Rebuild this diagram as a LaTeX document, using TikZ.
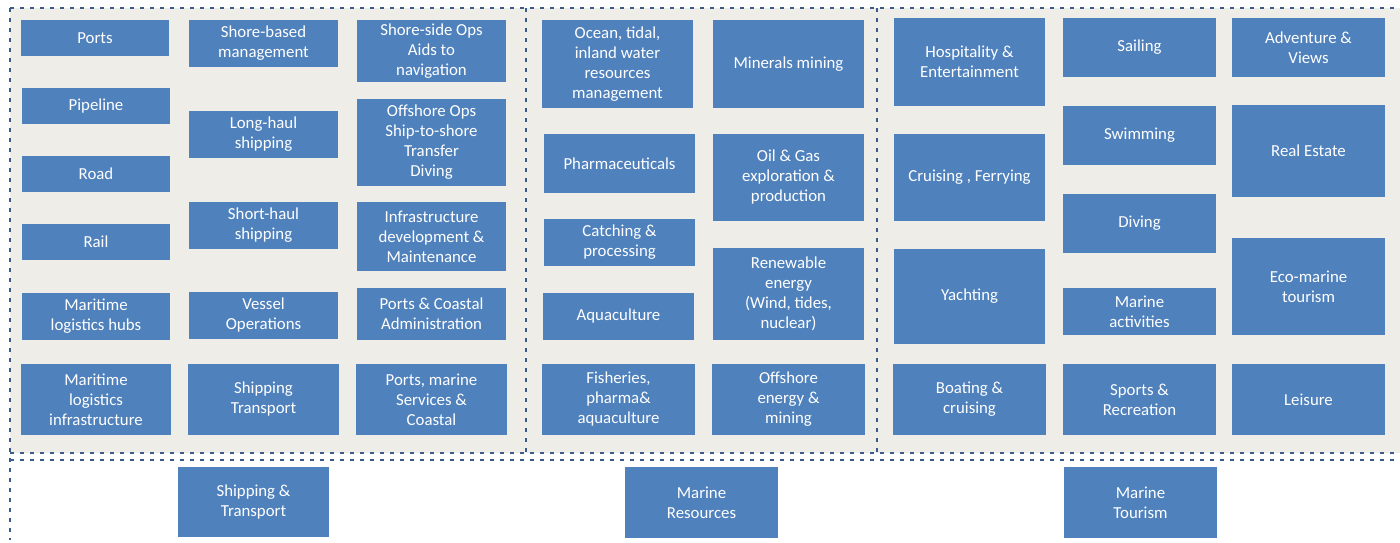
\documentclass[tikz,border=0pt]{standalone}
\usepackage{fontspec}
\setmainfont{Carlito}
\usepackage{tikz}
\usetikzlibrary{positioning}
\usepackage{xcolor}
\definecolor{boxblue}{HTML}{4F81BD}
\definecolor{panelgray}{HTML}{EEEDE8}
\definecolor{dashblue}{HTML}{3B5B8A}

\begin{document}
\begin{tikzpicture}[x=0.5pt,y=-0.5pt,
        sector/.style={fill=boxblue, text=white, inner sep=0pt, align=center, font=\fontsize{8.4}{10}\selectfont},
        border/.style={dashblue, line width=1.3pt, dash pattern=on 2pt off 3pt}]
        \useasboundingbox (0,0) rectangle (1400,542);
        \fill[panelgray] (10,8) rectangle (1400,453);
        % dashed frame and column dividers
        \draw[border] (10,8) -- (1400,8);
        \draw[border] (10,8) -- (10,540);
        \draw[border] (526,8) -- (526,453);
        \draw[border] (877,8) -- (877,453);
        \draw[border] (10,453) -- (1400,453);
        \draw[border] (10,460) -- (1400,460);
        \foreach \n/\xa/\ya/\xb/\yb/\t in {
            ports/21/20/169/56/{Ports},
            pipeline/22/88/170/124/{Pipeline},
            road/22/156/170/192/{Road},
            rail/22/224/170/260/{Rail},
            hubs/22/293/170/340/{Maritime\\logistics hubs},
            infra/21/364/171/435/{Maritime\\logistics\\infrastructure},
            shorebased/189/20/338/67/{Shore-based\\management},
            longhaul/189/111/338/158/{Long-haul\\shipping},
            shorthaul/189/202/338/249/{Short-haul\\shipping},
            vessel/189/292/338/339/{Vessel\\Operations},
            shiptrans/188/364/339/435/{Shipping\\Transport},
            shoreside/357/20/506/82/{Shore-side Ops\\Aids to\\navigation},
            offshoreops/357/99/506/186/{Offshore Ops\\Ship-to-shore\\Transfer\\Diving},
            infradev/357/202/506/271/{Infrastructure\\development \&\\Maintenance},
            portsadmin/357/288/506/340/{Ports \& Coastal\\Administration},
            portsmarine/356/364/507/435/{Ports, marine\\Services \&\\Coastal},
            shipping/178/467/329/537/{Shipping \&\\Transport},
            ocean/542/20/693/108/{Ocean, tidal,\\inland water\\resources\\management},
            pharma/544/134/695/193/{Pharmaceuticals},
            catching/544/219/695/266/{Catching \&\\processing},
            aqua/543/293/694/340/{Aquaculture},
            fisheries/542/364/695/435/{Fisheries,\\pharma\&\\aquaculture},
            minerals/713/20/864/108/{Minerals mining},
            oilgas/713/134/864/221/{Oil \& Gas\\exploration \&\\production},
            renewable/713/248/864/340/{Renewable\\energy\\(Wind, tides,\\nuclear)},
            offshore/712/364/865/435/{Offshore\\energy \&\\mining},
            resources/625/467/778/538/{Marine\\Resources},
            hospitality/894/18/1045/106/{Hospitality \&\\Entertainment},
            cruising/894/134/1045/221/{Cruising , Ferrying},
            yachting/894/249/1045/344/{Yachting},
            boating/893/364/1046/435/{Boating \&\\cruising},
            sailing/1063/18/1216/77/{Sailing},
            swimming/1063/106/1216/165/{Swimming},
            diving/1063/194/1216/253/{Diving},
            activities/1063/288/1216/335/{Marine\\activities},
            sports/1063/364/1216/435/{Sports \&\\Recreation},
            adventure/1232/18/1385/77/{Adventure \&\\Views},
            realestate/1232/105/1385/197/{Real Estate},
            ecomarine/1232/238/1385/335/{Eco-marine\\tourism},
            leisure/1232/364/1385/435/{Leisure},
            tourism/1064/467/1217/538/{Marine\\Tourism}}
        {
            \pgfmathsetmacro\w{(\xb-\xa)/2}
            \pgfmathsetmacro\h{(\yb-\ya)/2}
            \node[sector, minimum width=\w pt, minimum height=\h pt] (\n) at ({(\xa+\xb)/2},{(\ya+\yb)/2}) {\t};
        }
    \end{tikzpicture}
\end{document}
